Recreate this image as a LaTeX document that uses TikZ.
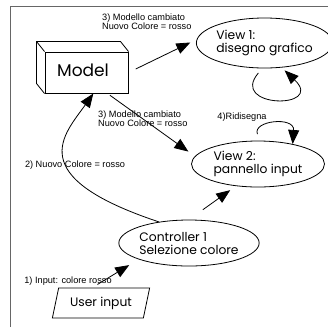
\documentclass[tikz,border=0pt]{standalone}
\usepackage{fontspec}
\setmainfont{Liberation Sans}
\newfontfamily\geofont{Poppins}
\usetikzlibrary{arrows.meta,shapes.geometric,calc}

\begin{document}
\begin{tikzpicture}[x=1pt,y=-1pt,
  blob/.style={ellipse,draw,line width=0.8pt,inner sep=0pt,align=left,
    font=\geofont\fontsize{12.3}{13}\selectfont},
  arr/.style={line width=0.8pt,-{Triangle[length=14pt,width=11pt]}},
  lbl/.style={font=\fontsize{9.2}{9}\selectfont,align=left,inner sep=0pt},
  frame/.style={draw=black!60,line width=0.9pt}]
\useasboundingbox (0,0) rectangle (328,327);
% outer frame (top and left edges only)
\draw[frame] (10,327) -- (10,6) -- (328,6);

% views and controller
\node[blob,minimum width=119pt,minimum height=50pt] (v1) at (264.5,43) {View 1:\\disegno grafico};
\node[blob,minimum width=133pt,minimum height=46pt] (v2) at (258,164) {View 2:\\pannello input};
\node[blob,minimum width=134pt,minimum height=46pt] (ctrl) at (189,243) {Controller 1\\Selezione colore};

% model drawn as a box: front face plus back edges
\node[draw,line width=1pt,minimum width=83pt,minimum height=41pt,inner sep=0pt,
  font=\geofont\fontsize{17}{18}\selectfont] (model) at (86.5,72.5) {\raisebox{4pt}{Model}\kern7pt};
\draw[line width=0.8pt] (model.south west) -- ++(-8,-10)
  -- ($(model.north west)+(-8,-10)$) -- ($(model.north east)+(-8,-10)$) -- (model.north east);
\draw[line width=0.8pt] ($(model.north west)+(-8,-10)$) -- (model.north west);

% user input
\node[trapezium,trapezium left angle=70,trapezium right angle=110,draw,line width=0.8pt,
  minimum width=98pt,minimum height=30pt,inner sep=0pt,trapezium stretches=true,
  font=\geofont\fontsize{12.3}{13}\selectfont] (user) at (101,303) {User input};

% connectors
\draw[arr,shorten <=6pt,shorten >=11pt]
  ($(user.top left corner)!0.37!(user.top right corner)$) -- (ctrl.198);
\draw[arr,shorten <=17pt,shorten >=7pt] (ctrl.90) -- (v2.225);
\draw[arr,shorten <=8pt,shorten >=7pt] (model.east) -- (v1.177);
\draw[arr,shorten <=3pt,shorten >=8pt] (model.-45) -- (v2.173);
\draw[arr] (ctrl.145) .. controls +(-137.5,-45.7) and +(-29,41) .. (model.-72);
\draw[arr,shorten <=6pt,shorten >=4pt] (v1.265) .. controls +(-34,40) and +(44,42) .. (v1.305);
\draw[arr,shorten <=7pt] (v2.85) .. controls +(-8,-20) and +(2,-28) .. (v2.30);

% labels
\node[lbl,anchor=west] (l3a) at (102,22) {3) Modello cambiato\\Nuovo Colore = rosso};
\node[lbl,anchor=west] (l3b) at (98,119) {3) Modello cambiato\\Nuovo Colore = rosso};
\node[lbl] (l2) at (75,165) {2) Nuovo Colore = rosso};
\node[lbl] (l1) at (68,281) {1) Input: colore rosso};
\node[lbl] (l4) at (242,117) {4)Ridisegna};
\end{tikzpicture}
\end{document}
